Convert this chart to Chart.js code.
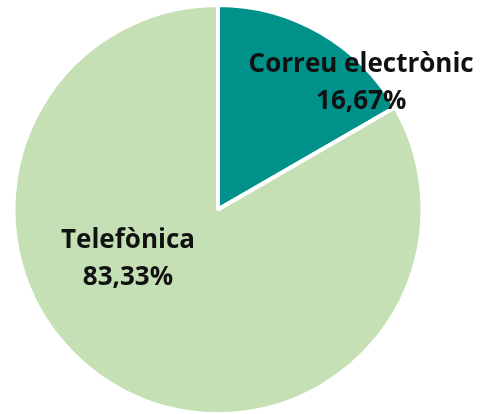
<!DOCTYPE html>
<html>
<head>
<meta charset="utf-8">
<script src="https://cdn.jsdelivr.net/npm/chart.js@4"></script>
<style>
  html, body { margin: 0; padding: 0; background: #fff; }
  #wrap { width: 488px; height: 414px; }
</style>
</head>
<body>
<div id="wrap"><canvas id="myPie"></canvas></div>
<script>
// data
const categories = ['Correu electrònic', 'Telefònica'];
const shares = [16.67, 83.33];
const sliceColors = ['#00918B', '#C5E0B4'];

// label anchors, as a fraction of the radius from the pie centre
const labelAnchors = [[0.70, -0.62], [-0.44, 0.24]];

const pieLabels = {
  id: 'pieLabels',
  afterDatasetsDraw(chart) {
    const c = chart.ctx;
    const meta = chart.getDatasetMeta(0);
    c.save();
    c.font = 'bold 26px "Open Sans"';
    c.fillStyle = '#111';
    c.textAlign = 'center';
    c.textBaseline = 'middle';
    meta.data.forEach((arc, i) => {
      const r = arc.outerRadius;
      const x = arc.x + labelAnchors[i][0] * r;
      const y = arc.y + labelAnchors[i][1] * r;
      const pct = shares[i].toFixed(2).replace('.', ',') + '%';
      c.fillText(categories[i], x, y - 18);
      c.fillText(pct, x, y + 19);
    });
    c.restore();
  }
};

const ctx = document.getElementById('myPie').getContext('2d');
const chart = new Chart(ctx, {
  type: 'pie',
  data: {
    labels: categories,
    datasets: [{
      data: shares,
      backgroundColor: sliceColors,
      borderColor: '#fff',
      borderWidth: 4,
      hoverOffset: 0
    }]
  },
  options: {
    responsive: true,
    maintainAspectRatio: false,
    animation: false,
    radius: '101%',
    layout: { padding: { left: 13, right: 65, top: 5, bottom: 0 } },
    plugins: { legend: { display: false }, tooltip: { enabled: false } }
  },
  plugins: [pieLabels]
});
</script>
</body>
</html>
